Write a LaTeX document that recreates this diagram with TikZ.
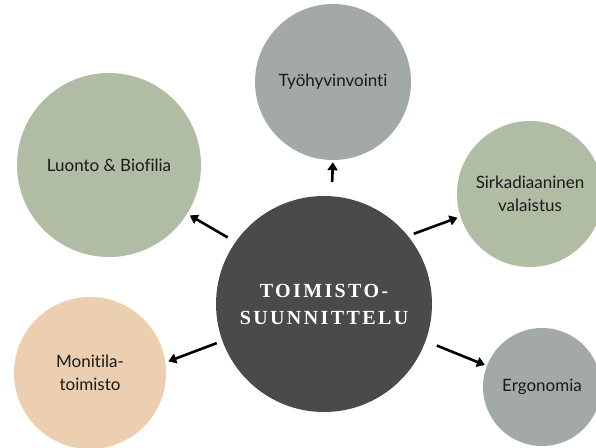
\documentclass[tikz,border=0pt]{standalone}
\usepackage{fontspec}
\setmainfont{Lato}[Ligatures=NoCommon]
\newfontfamily\titlefont[LetterSpace=12]{Liberation Serif}
\usetikzlibrary{arrows.meta}
\definecolor{hubgray}{HTML}{4A4A4A}
\definecolor{stonegray}{HTML}{A3A9A9}
\definecolor{sagegreen}{HTML}{B0BCA4}
\definecolor{sandpeach}{HTML}{ECCEB0}
\definecolor{inktext}{HTML}{1A1A1A}
\tikzset{
  bubble/.style={circle, inner sep=0pt, align=center, text=inktext,
    font=\fontsize{17}{23}\selectfont},
  hub/.style={circle, inner sep=0pt, fill=hubgray, minimum size=216pt,
    align=center, text=white,
    font=\titlefont\bfseries\fontsize{20}{27}\selectfont},
  link/.style={line width=2.6pt, -{Triangle[width=10pt,length=8pt]}}
}
\begin{document}
\begin{tikzpicture}[x=1pt, y=-1pt]
  \useasboundingbox (0,0) rectangle (596,447);
  \clip (0,0) rectangle (596,447);
  \fill[white] (0,0) rectangle (596,447);

  % central topic
  \node[hub] (hub) at (324,304) {TOIMISTO-\\SUUNNITTELU};

  % surrounding themes
  \node[bubble, fill=stonegray, minimum size=156pt] (tyo) at (333,82) {Työhyvinvointi};
  \node[bubble, fill=sagegreen, minimum size=184pt] (luonto) at (109,165) {Luonto \& Biofilia};
  \node[bubble, fill=sagegreen, minimum size=146pt] (sirk) at (530,194) {Sirkadiaaninen\\valaistus};
  \node[bubble, fill=sandpeach, minimum size=152pt] (moni) at (90,373) {Monitila-\\toimisto};
  \node[bubble, fill=stonegray, minimum size=118pt] (ergo) at (542,387) {Ergonomia};

  % arrows from the hub outwards
  \draw[link, shorten <=9pt,  shorten >=3pt] (hub.145)  -- (luonto.-32);
  \draw[link, shorten <=14pt, shorten >=2pt] (hub.86)   -- (tyo.-90);
  \draw[link, shorten <=6pt,  shorten >=3pt] (hub.39)   -- (sirk.198);
  \draw[link, shorten <=6pt,  shorten >=3pt] (hub.200)  -- (moni.8);
  \draw[link, shorten <=12pt, shorten >=2pt] (hub.-20)  -- (ergo.159);
\end{tikzpicture}
\end{document}
